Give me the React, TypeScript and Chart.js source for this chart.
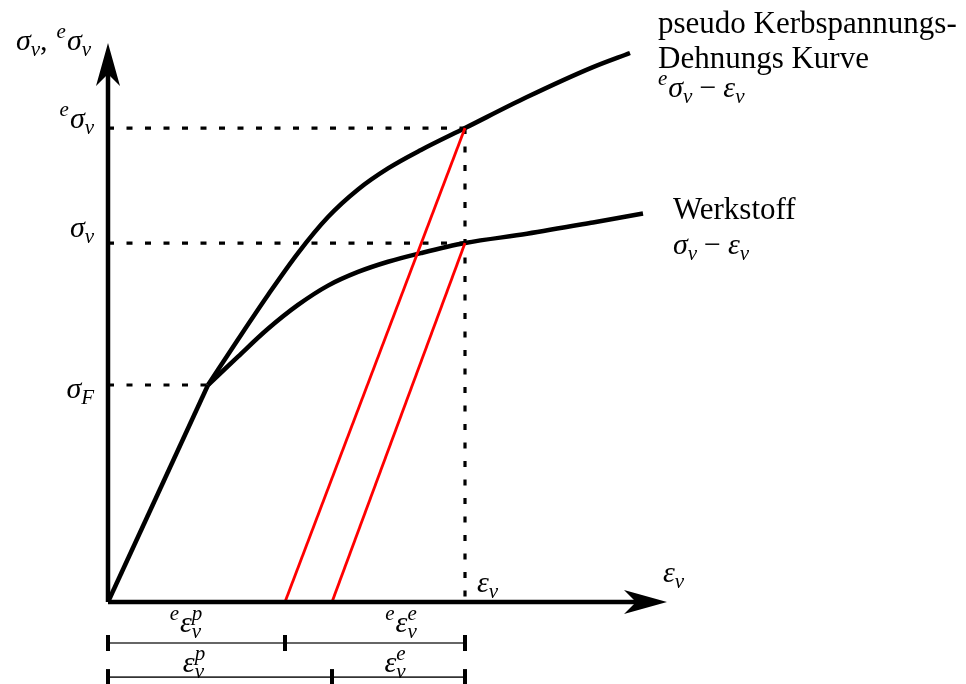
import { useEffect, useRef } from "react";
import { Chart, registerables } from "chart.js";

Chart.register(...registerables);

// Sketch units: strain on x (yield strain = 1), stress on y (yield stress = 1)
const epsF = 1.0; // yield strain
const sigmaF = 1.0; // yield stress σ_F
const epsV = 3.57; // notch strain ε_v
const eSigmaV = 2.184; // pseudo-elastic notch stress ^eσ_v
const sigmaV = 1.654; // material notch stress σ_v
const eEpsP = 1.77; // foot of the unloading line from ^eσ_v
const epsP = 2.24; // foot of the unloading line from σ_v

// pseudo notch stress–strain curve ^eσ_v – ε_v
const pseudoEps = [1.0, 1.3, 1.6, 1.9, 2.2, 2.5, 2.8, 3.13, 3.57, 4.19, 4.85, 5.22];
const pseudoSigma = [1.0, 1.21, 1.415, 1.608, 1.774, 1.901, 1.998, 2.083, 2.184, 2.327, 2.465, 2.53];

// material curve σ_v – ε_v
const matEps = [1.0, 1.3, 1.6, 1.9, 2.2, 2.5, 2.8, 3.13, 3.57, 4.19, 4.85, 5.35];
const matSigma = [1.0, 1.131, 1.259, 1.369, 1.458, 1.521, 1.568, 1.608, 1.654, 1.697, 1.749, 1.79];

// axis arrow tips
const xAxisTip = 5.59;
const yAxisTip = 2.576;

// dimension rows below the strain axis
const dimRow1 = -0.189;
const dimRow2 = -0.346;
const dimRow1Ticks = [0, eEpsP, epsV];
const dimRow2Ticks = [0, epsP, epsV];

const SERIF = '"Liberation Serif", "Times New Roman", serif';
const MATH = 30;
const SCRIPT = 21;

type Run = { t: string; kind?: "it" | "rm" | "sup" | "sub"; stack?: boolean; padL?: number; padR?: number };

function fontOf(r: Run) {
  const k = r.kind || "it";
  if (k === "rm") return `${MATH}px ${SERIF}`;
  if (k === "sup" || k === "sub") return `italic ${SCRIPT}px ${SERIF}`;
  return `italic ${MATH}px ${SERIF}`;
}

function dyOf(r: Run) {
  if (r.kind === "sup") return -12;
  if (r.kind === "sub") return 6;
  return 0;
}

function drawMath(ctx: CanvasRenderingContext2D, runs: Run[], x: number, y: number, align: "left" | "right" | "center") {
  const placed: { r: Run; x: number }[] = [];
  let cur = 0;
  let prevStart = 0;
  for (const r of runs) {
    ctx.font = fontOf(r);
    const w = ctx.measureText(r.t).width;
    const start = (r.stack ? prevStart : cur) + (r.padL || 0);
    placed.push({ r, x: start });
    const end = start + w + (r.padR || 0);
    cur = r.stack ? Math.max(cur, end) : end;
    prevStart = start;
  }
  const x0 = align === "left" ? x : align === "right" ? x - cur : x - cur / 2;
  for (const p of placed) {
    ctx.font = fontOf(p.r);
    ctx.fillText(p.r.t, x0 + p.x, y + dyOf(p.r));
  }
}

function arrowHead(ctx: CanvasRenderingContext2D, tx: number, ty: number, dx: number, dy: number) {
  const L = 43;
  const W = 12;
  const N = 31;
  const nx = -dy;
  const ny = dx;
  const bx = tx - dx * L;
  const by = ty - dy * L;
  ctx.beginPath();
  ctx.moveTo(tx, ty);
  ctx.lineTo(bx + nx * W, by + ny * W);
  ctx.lineTo(tx - dx * N, ty - dy * N);
  ctx.lineTo(bx - nx * W, by - ny * W);
  ctx.closePath();
  ctx.fill();
}

const pts = (xs: number[], ys: number[]) => xs.map((x, i) => ({ x, y: ys[i] }));

function seg(x1: number, y1: number, x2: number, y2: number) {
  return [
    { x: x1, y: y1 },
    { x: x2, y: y2 },
  ];
}

function lineSet(data: { x: number; y: number }[], color: string, width: number, order: number, dash: number[] = [], smooth = false) {
  return {
    data,
    showLine: true,
    borderColor: color,
    backgroundColor: color,
    borderWidth: width,
    borderDash: dash,
    borderCapStyle: "butt" as const,
    borderJoinStyle: "round" as const,
    pointRadius: 0,
    pointHoverRadius: 0,
    fill: false,
    clip: false as const,
    order,
    cubicInterpolationMode: smooth ? ("monotone" as const) : ("default" as const),
  };
}

const annotations = {
  id: "sketchAnnotations",
  afterDatasetsDraw(chart: any) {
    const ctx: CanvasRenderingContext2D = chart.ctx;
    const X = (v: number) => chart.scales.x.getPixelForValue(v);
    const Y = (v: number) => chart.scales.y.getPixelForValue(v);
    ctx.save();
    ctx.fillStyle = "#000";
    ctx.strokeStyle = "#000";

    // axis arrowheads
    arrowHead(ctx, X(xAxisTip), Y(0), 1, 0);
    arrowHead(ctx, X(0), Y(yAxisTip), 0, -1);

    // dimension ticks
    ctx.lineWidth = 4;
    const tick = (xv: number, yv: number) => {
      ctx.beginPath();
      ctx.moveTo(X(xv), Y(yv) - 8);
      ctx.lineTo(X(xv), Y(yv) + 8);
      ctx.stroke();
    };
    dimRow1Ticks.forEach((v) => tick(v, dimRow1));
    dimRow2Ticks.forEach((v) => tick(v, dimRow2));

    ctx.textBaseline = "alphabetic";
    const left = X(0);

    // stress axis title
    drawMath(
      ctx,
      [
        { t: "σ" },
        { t: "v", kind: "sub" },
        { t: ",", kind: "rm", padR: 9 },
        { t: "e", kind: "sup" },
        { t: "σ", padL: 1 },
        { t: "v", kind: "sub" },
      ],
      left - 17,
      Y(yAxisTip) + 7,
      "right"
    );

    // stress levels
    drawMath(ctx, [{ t: "e", kind: "sup" }, { t: "σ", padL: 1 }, { t: "v", kind: "sub" }], left - 14, Y(eSigmaV), "right");
    drawMath(ctx, [{ t: "σ" }, { t: "v", kind: "sub" }], left - 14, Y(sigmaV) - 6, "right");
    drawMath(ctx, [{ t: "σ" }, { t: "F", kind: "sub" }], left - 14, Y(sigmaF) + 13, "right");

    // strain marks
    drawMath(ctx, [{ t: "ε" }, { t: "v", kind: "sub" }], X(epsV) + 12, Y(0) - 10, "left");
    drawMath(ctx, [{ t: "ε" }, { t: "v", kind: "sub" }], X(xAxisTip) - 4, Y(0) - 20, "left");

    // curve captions
    const pEndX = X(pseudoEps[pseudoEps.length - 1]);
    const pEndY = Y(pseudoSigma[pseudoSigma.length - 1]);
    ctx.font = `31px ${SERIF}`;
    ctx.fillText("pseudo Kerbspannungs-", pEndX + 28, pEndY - 20);
    ctx.fillText("Dehnungs Kurve", pEndX + 28, pEndY + 15);
    drawMath(
      ctx,
      [
        { t: "e", kind: "sup" },
        { t: "σ", padL: 1 },
        { t: "v", kind: "sub" },
        { t: "−", kind: "rm", padL: 7, padR: 7 },
        { t: "ε" },
        { t: "v", kind: "sub" },
      ],
      pEndX + 28,
      pEndY + 44,
      "left"
    );

    const mEndX = X(matEps[matEps.length - 1]);
    const mEndY = Y(matSigma[matSigma.length - 1]);
    ctx.font = `31px ${SERIF}`;
    ctx.fillText("Werkstoff", mEndX + 30, mEndY + 5);
    drawMath(
      ctx,
      [
        { t: "σ" },
        { t: "v", kind: "sub" },
        { t: "−", kind: "rm", padL: 7, padR: 7 },
        { t: "ε" },
        { t: "v", kind: "sub" },
      ],
      mEndX + 30,
      mEndY + 40,
      "left"
    );

    // dimension labels
    const pre: Run = { t: "e", kind: "sup" };
    drawMath(ctx, [pre, { t: "ε", padL: 1 }, { t: "p", kind: "sup" }, { t: "v", kind: "sub", stack: true }], X(0.78), Y(dimRow1) - 11, "center");
    drawMath(ctx, [pre, { t: "ε", padL: 1 }, { t: "e", kind: "sup" }, { t: "v", kind: "sub", stack: true }], X(2.93), Y(dimRow1) - 11, "center");
    drawMath(ctx, [{ t: "ε" }, { t: "p", kind: "sup" }, { t: "v", kind: "sub", stack: true }], X(0.86), Y(dimRow2) - 5, "center");
    drawMath(ctx, [{ t: "ε" }, { t: "e", kind: "sup" }, { t: "v", kind: "sub", stack: true }], X(2.87), Y(dimRow2) - 5, "center");

    ctx.restore();
  },
};

export default function App() {
  const ref = useRef<HTMLCanvasElement>(null);

  useEffect(() => {
    const canvas = ref.current;
    if (!canvas) return;
    const dash = [6, 12.5];
    const chart = new Chart(canvas, {
      type: "scatter",
      data: {
        datasets: [
          // axes
          lineSet(seg(0, 0, xAxisTip - 0.25, 0), "#000", 4.5, 1),
          lineSet(seg(0, 0, 0, yAxisTip - 0.1), "#000", 4.5, 1),
          // unloading lines
          lineSet(seg(eEpsP, 0, epsV, eSigmaV), "#ff0000", 2.8, 2),
          lineSet(seg(epsP, 0, epsV, sigmaV), "#ff0000", 2.8, 2),
          // elastic line and the two curves
          lineSet(seg(0, 0, epsF, sigmaF), "#000", 4.5, 3),
          lineSet(pts(pseudoEps, pseudoSigma), "#000", 4.5, 3, [], true),
          lineSet(pts(matEps, matSigma), "#000", 4.5, 3, [], true),
          // guide lines
          lineSet(seg(0, eSigmaV, epsV, eSigmaV), "#000", 3.2, 5, dash),
          lineSet(seg(0, sigmaV, epsV, sigmaV), "#000", 3.2, 5, dash),
          lineSet(seg(0, sigmaF, epsF, sigmaF), "#000", 3.2, 5, dash),
          lineSet(seg(epsV, eSigmaV, epsV, 0), "#000", 3.2, 5, dash),
          // dimension lines
          lineSet(seg(0, dimRow1, epsV, dimRow1), "#333", 1.6, 6),
          lineSet(seg(0, dimRow2, epsV, dimRow2), "#333", 1.6, 6),
        ],
      },
      options: {
        animation: false,
        responsive: false,
        devicePixelRatio: 1,
        events: [],
        layout: { padding: { left: 108, right: 258, top: 16.1, bottom: 82 } },
        scales: {
          x: { type: "linear", min: 0, max: 6, display: false },
          y: { type: "linear", min: 0, max: 2.7, display: false },
        },
        plugins: {
          legend: { display: false },
          tooltip: { enabled: false },
          title: { display: false },
        },
      },
      plugins: [annotations],
    });
    return () => chart.destroy();
  }, []);

  return (
    <div style={{ position: "fixed", left: 0, top: 0, width: 966, height: 684, background: "#fff" }}>
      <canvas ref={ref} width={966} height={684} style={{ display: "block", width: 966, height: 684 }} />
    </div>
  );
}
